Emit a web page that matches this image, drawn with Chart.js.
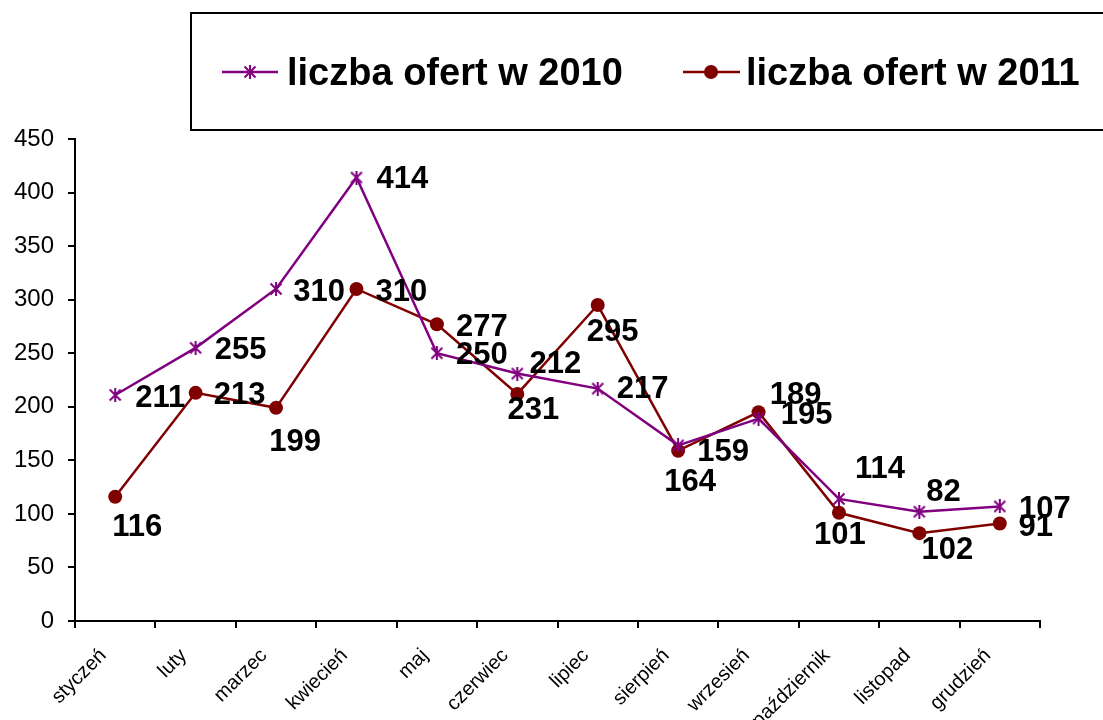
<!DOCTYPE html>
<html>
<head>
<meta charset="utf-8">
<script src="https://cdn.jsdelivr.net/npm/chart.js@4.4.0/dist/chart.umd.min.js"></script>
<style>
  html, body { margin: 0; padding: 0; background: #fff; }
  canvas { display: block; }
</style>
</head>
<body>
<canvas id="c" width="1103" height="720"></canvas>
<script>
// ---- data ----
const categories = ['styczeń','luty','marzec','kwiecień','maj','czerwiec','lipiec','sierpień','wrzesień','październik','listopad','grudzień'];
const offers2010 = [211, 255, 310, 414, 250, 231, 217, 164, 189, 114, 102, 107];
const offers2011 = [116, 213, 199, 310, 277, 212, 295, 159, 195, 101, 82, 91];
const seriesNames = ['liczba ofert w 2010', 'liczba ofert w 2011'];
const yMin = 0, yMax = 450, yStep = 50;

// ---- style ----
const PURPLE = '#800080';
const MAROON = '#800000';
// data-label offsets (px from point to label centre)
const labelOffsets2010 = [[45,1],[45,0],[43,1],[46,-1],[45,0],[16,34],[45,-2],[12,35],[37,-26],[41,-32],[28,36],[45,1]];
const labelOffsets2011 = [[22,28],[44,0],[19,32],[45,1],[45,1],[38,-32],[15,25],[45,-1],[48,1],[1,20],[24,-43],[36,1]];

function starCanvas(size, color, lw) {
  const c = document.createElement('canvas');
  c.width = size; c.height = size;
  const g = c.getContext('2d');
  g.strokeStyle = color; g.lineWidth = lw; g.lineCap = 'butt';
  const m = 1.5, s = size;
  g.beginPath();
  g.moveTo(m, m); g.lineTo(s - m, s - m);
  g.moveTo(s - m, m); g.lineTo(m, s - m);
  g.moveTo(s / 2, 0); g.lineTo(s / 2, s);
  g.stroke();
  return c;
}
const starImg = starCanvas(14, PURPLE, 2);

const legendPlugin = {
  id: 'boxLegend',
  afterDraw(chart) {
    const ctx = chart.ctx;
    ctx.save();
    ctx.strokeStyle = '#000';
    ctx.lineWidth = 2;
    ctx.strokeRect(191, 13, 1103 - 191 + 10, 117);
    const items = [
      { lx0: 222, lx1: 278, mx: 250, tx: 287, ds: chart.data.datasets[0], star: true },
      { lx0: 683, lx1: 740, mx: 711, tx: 746, ds: chart.data.datasets[1], star: false }
    ];
    const ly = 72;
    items.forEach(it => {
      ctx.strokeStyle = it.ds.borderColor;
      ctx.lineWidth = 2.5;
      ctx.beginPath(); ctx.moveTo(it.lx0, ly); ctx.lineTo(it.lx1, ly); ctx.stroke();
      if (it.star) {
        ctx.drawImage(starImg, it.mx - 7, ly - 7);
      } else {
        ctx.fillStyle = it.ds.borderColor;
        ctx.beginPath(); ctx.arc(it.mx, ly, 7, 0, Math.PI * 2); ctx.fill();
      }
      ctx.fillStyle = '#000';
      ctx.font = 'bold 38px "Liberation Sans", Arial, sans-serif';
      ctx.textAlign = 'left';
      ctx.textBaseline = 'alphabetic';
      ctx.fillText(it.ds.label, it.tx, 85);
    });
    ctx.restore();
  }
};

const dataLabelPlugin = {
  id: 'valueLabels',
  afterDatasetsDraw(chart) {
    const ctx = chart.ctx;
    const offs = [labelOffsets2010, labelOffsets2011];
    ctx.save();
    ctx.font = 'bold 31px "Liberation Sans", Arial, sans-serif';
    ctx.fillStyle = '#000';
    ctx.textAlign = 'center';
    ctx.textBaseline = 'alphabetic';
    chart.data.datasets.forEach((ds, di) => {
      const meta = chart.getDatasetMeta(di);
      meta.data.forEach((pt, i) => {
        const o = offs[di][i];
        ctx.fillText(String(ds.data[i]), pt.x + o[0], pt.y + o[1] + 11);
      });
    });
    ctx.restore();
  }
};

new Chart(document.getElementById('c'), {
  type: 'line',
  data: {
    labels: categories,
    datasets: [
      {
        label: seriesNames[0], data: offers2010,
        borderColor: PURPLE, backgroundColor: PURPLE, borderWidth: 2.5,
        pointStyle: starImg, pointRadius: 7, tension: 0, fill: false
      },
      {
        label: seriesNames[1], data: offers2011,
        borderColor: MAROON, backgroundColor: MAROON, borderWidth: 2.5,
        pointStyle: 'circle', pointRadius: 7, pointBorderWidth: 0, tension: 0, fill: false
      }
    ]
  },
  options: {
    responsive: false,
    animation: false,
    devicePixelRatio: 1,
    layout: { padding: { top: 139, right: 63, left: 0, bottom: 0 } },
    plugins: { legend: { display: false }, tooltip: { enabled: false } },
    scales: {
      x: {
        offset: true,
        grid: { offset: true, drawOnChartArea: false, drawTicks: true, tickLength: 7, color: '#000', lineWidth: 2 },
        border: { display: true, color: '#000', width: 2 },
        ticks: {
          color: '#000', font: { family: '"Liberation Sans", Arial, sans-serif', size: 20 },
          minRotation: 45, maxRotation: 45, autoSkip: false, padding: 16, labelOffset: -12
        },
        afterFit(s) { s.height = 99; }
      },
      y: {
        min: yMin, max: yMax,
        grid: { drawOnChartArea: false, drawTicks: true, tickLength: 7, color: '#000', lineWidth: 2 },
        border: { display: true, color: '#000', width: 2 },
        ticks: {
          stepSize: yStep, color: '#000', padding: 14,
          font: { family: '"Liberation Sans", Arial, sans-serif', size: 24 }
        },
        afterFit(s) { s.width = 75; }
      }
    }
  },
  plugins: [dataLabelPlugin, legendPlugin]
});
</script>
</body>
</html>
